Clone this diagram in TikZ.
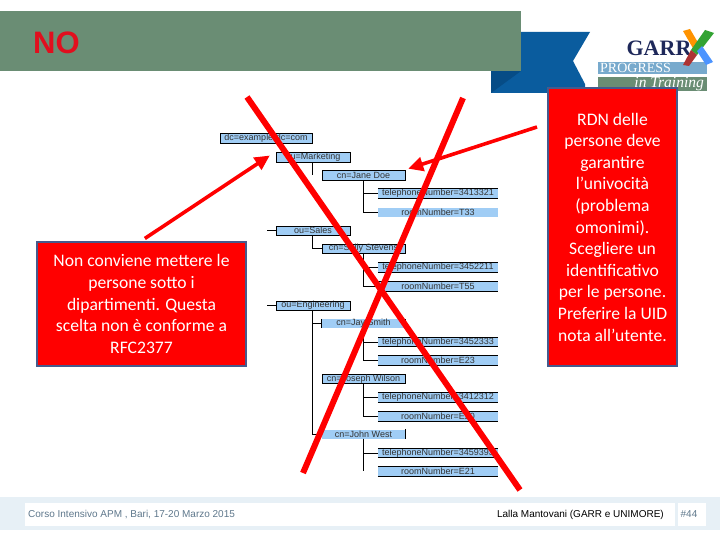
\documentclass[tikz,border=0pt]{standalone}
\usepackage{fontspec}
\setmainfont{Carlito}
\newfontfamily\arialfont{Liberation Sans}
\newfontfamily\logofont{Liberation Serif}
\usetikzlibrary{positioning,arrows.meta,calc}
\definecolor{headgreen}{RGB}{106,141,116}
\definecolor{ribbonblue}{RGB}{10,92,158}
\definecolor{ribbondark}{RGB}{6,76,134}
\definecolor{logonavy}{RGB}{30,40,90}
\definecolor{logoblue}{RGB}{120,170,205}
\definecolor{notered}{RGB}{255,0,0}
\definecolor{titlered}{RGB}{225,15,30}
\definecolor{noteedge}{RGB}{70,90,140}
\definecolor{treeblue}{RGB}{160,205,245}
\definecolor{footband}{RGB}{231,240,246}
\definecolor{footgrey}{RGB}{95,120,140}
\tikzset{
  notebox/.style={fill=notered,draw=noteedge,line width=2.6pt,text=white,font=\fontsize{17.6}{21.6}\selectfont,align=center,inner sep=0pt},
  treebox/.style={fill=treeblue,draw=black,line width=.7pt,font=\arialfont\fontsize{9}{9}\selectfont,inner sep=0pt,text=black!80},
  leafbox/.style={fill=treeblue,font=\arialfont\fontsize{9}{9}\selectfont,inner sep=0pt,text=black!80},
  treeline/.style={line width=.7pt,black},
  bigcross/.style={notered,line width=6pt},
  notearrow/.style={notered,line width=3.6pt,-{Triangle[length=15pt,width=14pt]}},
  footbox/.style={fill=white,inner sep=0pt},
  foottext/.style={font=\arialfont\fontsize{10}{11}\selectfont}
}
\begin{document}
\begin{tikzpicture}[x=1pt,y=-1pt]
  \useasboundingbox (0,0) rectangle (720,540);
  \fill[white] (0,0) rectangle (720,540);
  % logo
  \fill[ribbonblue] (491,32)--(590,32)--(573,61)--(585,84)--(585,93)--(491,93)--cycle;
  \fill[ribbondark] (491,71)--(521,71)--(491,93)--cycle;
  \fill[logoblue] (598,62) rectangle (707,74);
  \fill[headgreen] (598,77) rectangle (707,91);
  \node[font=\logofont\bfseries\fontsize{22}{22}\selectfont,text=logonavy,inner sep=0pt] (garr) at (659,48.5) {GARR};
  \fill[orange!85!yellow] (683,31)--(690,29)--(700,46)--(694,50)--cycle;
  \fill[green!55!black!80] (714,33)--(705,30)--(691,50)--(697,55)--cycle;
  \fill[blue!60!cyan!70] (697,51)--(702,46)--(713,62)--(706,65)--cycle;
  \fill[red!60!black!80] (691,50)--(697,55)--(689,66)--(683,65)--cycle;
  \node[font=\logofont\fontsize{14}{14}\selectfont,text=white,inner sep=0pt,anchor=west] (progress) at (600,68) {PROGRESS};
  \node[font=\logofont\itshape\fontsize{15.5}{15}\selectfont,text=white,inner sep=0pt,anchor=east] (training) at (704,84) {in Training};
  % header
  \fill[headgreen] (0,11) rectangle (521,71);
  \node[font=\arialfont\bfseries\fontsize{31}{31}\selectfont,text=titlered,inner sep=0pt,anchor=west] (title) at (33,43) {NO};
  % tree
  \node[treebox,minimum width=92pt,minimum height=10pt] (base) at (266,138) {dc=example,dc=com};
  \node[treebox,minimum width=74pt,minimum height=10pt] (mkt) at (313,157) {ou=Marketing};
  \node[treebox,minimum width=83pt,minimum height=10pt] (jane) at (363.5,175) {cn=Jane Doe};
  \node[leafbox,minimum width=120pt,minimum height=9pt] (janetel) at (438,193.5) {telephoneNumber=3413321};
  \node[leafbox,minimum width=120pt,minimum height=9pt] (janeroom) at (438,212.5) {roomNumber=T33};
  \node[treebox,minimum width=74pt,minimum height=9pt] (sales) at (313,230.5) {ou=Sales};
  \node[treebox,minimum width=83pt,minimum height=9pt] (sally) at (363.5,248.5) {cn=Sally Stevens};
  \node[leafbox,minimum width=120pt,minimum height=9pt] (sallytel) at (438,267.5) {telephoneNumber=3452211};
  \node[leafbox,minimum width=120pt,minimum height=9pt] (sallyroom) at (438,286.5) {roomNumber=T55};
  \node[treebox,minimum width=74pt,minimum height=9pt] (eng) at (313,305.5) {ou=Engineering};
  \node[leafbox,minimum width=83pt,minimum height=9pt] (jay) at (363.5,323.5) {cn=Jay Smith};
  \node[leafbox,minimum width=120pt,minimum height=9pt] (jaytel) at (438,342) {telephoneNumber=3452333};
  \node[leafbox,minimum width=120pt,minimum height=9pt] (jayroom) at (438,360.5) {roomNumber=E23};
  \node[treebox,minimum width=83pt,minimum height=9pt] (joseph) at (363.5,379) {cn=Joseph Wilson};
  \node[leafbox,minimum width=120pt,minimum height=9pt] (josephtel) at (438,397.5) {telephoneNumber=3412312};
  \node[leafbox,minimum width=120pt,minimum height=9pt] (josephroom) at (438,416.5) {roomNumber=E20};
  \node[leafbox,minimum width=83pt,minimum height=9pt] (john) at (363.5,434) {cn=John West};
  \node[leafbox,minimum width=120pt,minimum height=9pt] (johntel) at (438,453) {telephoneNumber=3459393};
  \node[leafbox,minimum width=120pt,minimum height=9pt] (johnroom) at (438,471.5) {roomNumber=E21};
  % rules on the leaves
  \foreach \leaf in {janetel,sallytel,sallyroom,jaytel,jayroom,josephtel,josephroom,johntel,johnroom}{
    \draw[treeline] (\leaf.north west)--(\leaf.north east);
    \draw[treeline] (\leaf.south west)--(\leaf.south east);
  }
  \draw[treeline] (jay.north west)--(jay.south west);
  \draw[treeline] (jay.north east)--(jay.south east);
  \draw[treeline] (john.north east)--(john.south east);
  % free ends of the stubs
  \coordinate (mktstub) at (312,175);
  \coordinate (salesstub) at (267,230.5);
  \coordinate (engstub) at (267,305.5);
  \coordinate (johnstub) at (363.5,471);
  \draw[treeline] (mkt.south -| mktstub)--(mktstub);
  \draw[treeline] (salesstub)--(sales.west);
  \draw[treeline] (engstub)--(eng.west);
  \draw[treeline] (sales.south -| mktstub)|-(sally.west);
  \draw[treeline] (eng.south -| mktstub)|-(jay.west);
  \draw[treeline] (eng.south -| mktstub)|-(john.west);
  \foreach \who in {jane,sally,jay,joseph,john}{
    \draw[treeline] (\who.south)|-(\who tel.west);
  }
  \foreach \who in {jane,sally,jay,joseph}{
    \draw[treeline] (\who.south)|-(\who room.west);
  }
  \draw[treeline] (john.south)--(johnstub);
  % footer
  \fill[footband] (0,497) rectangle (720,530);
  \node[footbox,minimum width=650pt,minimum height=23pt] (footmain) at (350,514.5) {};
  \node[footbox,minimum width=28pt,minimum height=23pt] (footnum) at (692,514.5) {};
  \node[foottext,text=footgrey,inner sep=0pt,anchor=west] (course) at (28,514.5) {Corso Intensivo APM , Bari, 17-20 Marzo 2015};
  \node[foottext,text=black,inner sep=0pt,anchor=east] (author) at (664,514.5) {Lalla Mantovani (GARR e UNIMORE)};
  \node[foottext,text=footgrey,inner sep=0pt] (pagenum) at (689,514.5) {\#44};
  % notes
  \node[notebox,minimum width=209pt,minimum height=124pt] (noteL) at (141.5,304) {Non conviene mettere le\\persone sotto i\\dipartimenti. Questa\\scelta non è conforme a\\RFC2377};
  \node[notebox,minimum width=129pt,minimum height=278pt] (noteR) at (612.5,227) {RDN delle\\persone deve\\garantire\\l’univocità\\(problema\\omonimi).\\Scegliere un\\identificativo\\per le persone.\\Preferire la UID\\nota all’utente.};
  % cross and arrows
  \coordinate (crossA) at (247,97);
  \coordinate (crossB) at (520,490);
  \coordinate (crossC) at (463,98);
  \coordinate (crossD) at (303,473);
  \coordinate (noteRout) at (537,127);
  \draw[bigcross] (crossA)--(crossB);
  \draw[bigcross] (crossC)--(crossD);
  \draw[notearrow,shorten <=4pt,shorten >=7pt] (noteL.north)--(mkt.north west);
  \draw[notearrow,shorten >=3pt] (noteRout)--(jane.north east);
\end{tikzpicture}
\end{document}
